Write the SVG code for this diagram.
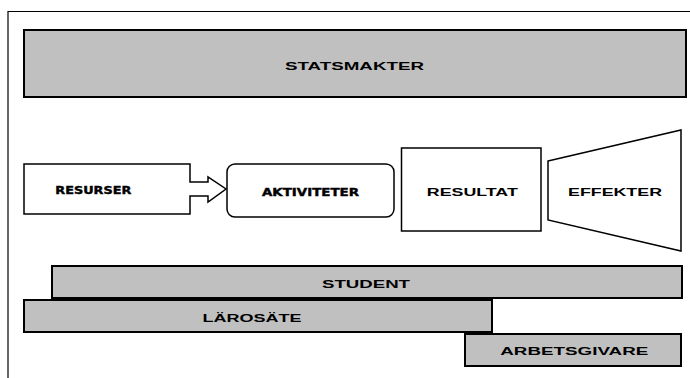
<svg xmlns="http://www.w3.org/2000/svg" width="690" height="378" viewBox="0 0 690 378">
<style>
.bar{fill:#c0c0c0;stroke:#000;stroke-width:2}
.box{fill:#fff;stroke:#000;stroke-width:1.5}
.t{font-family:"Liberation Sans",Arial,sans-serif;font-weight:bold;font-size:11.5px;fill:#000;text-anchor:middle}
.h{font-family:"DejaVu Sans","Liberation Sans",sans-serif;font-weight:bold;font-size:10.5px;fill:#000;stroke:#000;stroke-width:0.4;text-anchor:middle}
</style>
<rect width="690" height="378" fill="#fff"/>
<path d="M8 378 V11.5 H690" fill="none" stroke="#000" stroke-width="1.2"/>
<g id="statsmakter">
<rect class="bar" x="24" y="30" width="662" height="67"/>
<text class="t" x="354.5" y="69.5" textLength="139" lengthAdjust="spacingAndGlyphs">STATSMAKTER</text>
</g>
<g id="resurser">
<path class="box" d="M24 164 H190 V182 H208 V177 L226 189 L208 202 V196 H190 V214 H24 Z"/>
<text class="h" x="93.3" y="194.2" textLength="76" lengthAdjust="spacingAndGlyphs">RESURSER</text>
</g>
<g id="aktiviteter">
<rect class="box" x="227" y="164" width="167" height="53" rx="8"/>
<text class="h" x="310.5" y="196" textLength="97" lengthAdjust="spacingAndGlyphs">AKTIVITETER</text>
</g>
<g id="resultat">
<rect class="box" x="401.5" y="148" width="139.5" height="83"/>
<text class="t" x="472.3" y="195.7" textLength="91" lengthAdjust="spacingAndGlyphs">RESULTAT</text>
</g>
<g id="effekter">
<path class="box" d="M548 161 L681 130 V251 L548 220 Z"/>
<text class="t" x="615" y="196" textLength="94" lengthAdjust="spacingAndGlyphs">EFFEKTER</text>
</g>
<g id="connectors"></g>
<g id="student">
<rect class="bar" x="52" y="266" width="630" height="32"/>
<text class="t" x="366" y="288" textLength="88" lengthAdjust="spacingAndGlyphs">STUDENT</text>
</g>
<g id="larosate">
<rect class="bar" x="24" y="300" width="468" height="32"/>
<text class="t" x="252" y="322" textLength="99" lengthAdjust="spacingAndGlyphs">LÄROSÄTE</text>
</g>
<g id="arbetsgivare">
<rect class="bar" x="465" y="334" width="216" height="32"/>
<text class="t" x="574.3" y="354.5" textLength="148" lengthAdjust="spacingAndGlyphs">ARBETSGIVARE</text>
</g>
</svg>
